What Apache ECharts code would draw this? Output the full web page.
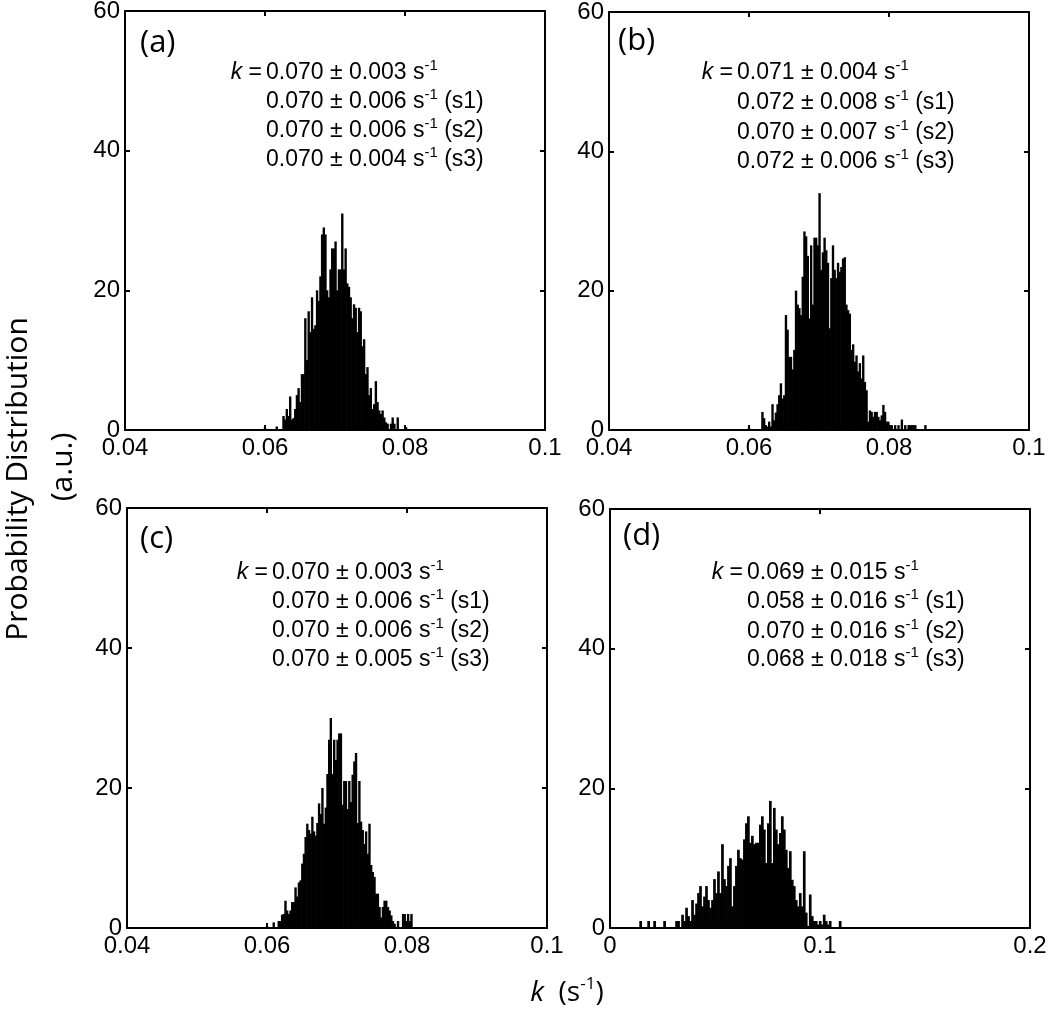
<!DOCTYPE html>
<html>
<head>
<meta charset="utf-8">
<script src="https://cdn.jsdelivr.net/npm/echarts@6/dist/echarts.min.js"></script>
<style>
  html, body { margin: 0; padding: 0; background: #fff; }
  #chart { width: 1050px; height: 1013px; }
</style>
</head>
<body>
<div id="chart"></div>
<script>
// histogram heights (a.u.), one value per bin
const binStartA = 0.0600, binWidthA = 0.00024;
const valuesA = [
  0.4, 0, 0, 0, 0, 0, 0, 0.5, 0, 0,
  0, 2, 1.5, 3, 2, 4.8, 1.5, 1.7, 3, 5,
  6, 4, 8, 8, 16, 10, 17, 14, 19, 14.5,
  15, 20, 18.5, 22, 28, 29, 28, 20, 19, 23,
  26, 26, 27, 20, 23, 23, 31, 23, 26, 21,
  20.5, 19, 16, 18, 17.5, 14, 17.5, 17, 12, 13,
  8, 9, 5, 6, 3, 3.7, 7, 4, 2.8, 2.3,
  2.8, 1.8, 1.1, 0.9, 0, 0.9, 1.8, 0.9, 0, 1.8,
  0, 0, 0, 0, 0.4
];

const binStartB = 0.0600, binWidthB = 0.00024;
const valuesB = [
  0.4, 0, 0, 0, 0, 0, 0, 0, 2.6, 1.7,
  0.7, 0.5, 1.2, 0.5, 3.7, 1.4, 2.5, 3.7, 5, 6.7,
  4.5, 5, 16.5, 14.4, 10.5, 10.5, 8.7, 11.5, 20, 18,
  17.5, 16.5, 22, 28.5, 27.8, 25, 16, 26.5, 18, 27.6,
  27.6, 26.5, 34, 23, 25.5, 27.6, 25.8, 24, 14.6, 21.8,
  26.5, 23, 21.8, 24, 22.7, 23.4, 24.6, 24.8, 18, 17.2,
  16.7, 11.5, 12.3, 9.8, 10.7, 8.4, 9.6, 7.4, 10.7, 6.9,
  5.7, 1.2, 2.8, 2.6, 1.9, 2.6, 2.6, 1.9, 1.4, 2.1,
  3.6, 2.6, 1.2, 1.2, 0.7, 0.7, 0, 0.7, 0, 0.7,
  0, 1.5, 0, 0.7, 0, 0.7, 0.7, 0.7, 0.7, 0.7,
  0, 0, 0, 0, 0, 0.7
];

const binStartC = 0.0600, binWidthC = 0.00024;
const valuesC = [
  0.3, 0, 0, 0, 0.8, 0, 0, 1, 1, 1.9,
  2, 3.9, 2.5, 2, 2.5, 3.7, 3.7, 5.8, 4.5, 6.5,
  6.8, 9.2, 10.6, 13, 14.9, 14, 13.5, 15.9, 13.8, 13.2,
  15, 17.8, 16.3, 20, 14.9, 17.2, 22, 26.9, 30, 22,
  26.9, 24, 26.9, 27.8, 27.8, 17.6, 21, 21, 17, 21,
  18, 21.9, 23.8, 25, 15, 21, 15.2, 14, 12, 13.8,
  10.6, 14.9, 9, 8, 7.3, 4.9, 4.9, 3, 1.5, 3,
  3.9, 3.9, 3, 2.5, 1.8, 1, 0.6, 0, 1, 0,
  0, 2, 2, 1, 2, 1, 2
];

const binStartD = 0.0146, binWidthD = 0.00095;
const valuesD = [
  1, 0, 0, 0, 1, 0, 0, 1, 0, 0,
  0, 0, 1, 0, 0, 0, 0, 0, 1, 1,
  0, 1.9, 1, 2.9, 1.7, 1, 4, 1.9, 3.5, 5,
  6, 3.1, 4.5, 6, 4, 2.9, 4, 7, 5, 8.1,
  5, 12, 7, 6, 8.9, 10, 3.1, 6, 8.9, 11.2,
  10, 9.8, 12.7, 15, 16, 12.2, 13.2, 12, 12.2, 12.2,
  14.8, 16, 14.1, 9.3, 15, 18.2, 9.3, 17.2, 14.1, 12,
  13.6, 16, 14.1, 11.2, 8.6, 11, 6.9, 6, 4, 3.1,
  5, 3.1, 11, 2.2, 0.3, 4.8, 1.7, 1, 1, 0.5,
  1, 0.5, 1.9, 1, 0.5, 1, 0, 0, 0, 0,
  1
];

// tick labels
const xTicksNarrow = [0.04, 0.06, 0.08, 0.1];
const xTicksWide = [0, 0.1, 0.2];
const yTicks = [0, 20, 40, 60];

// fitted rates printed in each panel
const statsA = ['0.070 ± 0.003', '0.070 ± 0.006', '0.070 ± 0.006', '0.070 ± 0.004'];
const statsB = ['0.071 ± 0.004', '0.072 ± 0.008', '0.070 ± 0.007', '0.072 ± 0.006'];
const statsC = ['0.070 ± 0.003', '0.070 ± 0.006', '0.070 ± 0.006', '0.070 ± 0.005'];
const statsD = ['0.069 ± 0.015', '0.058 ± 0.016', '0.070 ± 0.016', '0.068 ± 0.018'];
const statSuffix = ['', ' (s1)', ' (s2)', ' (s3)'];

const panels = [
  { tag: '(a)', grid: { left: 125, top: 11, width: 420, height: 419 },
    start: binStartA, bin: binWidthA, values: valuesA, xTicks: xTicksNarrow, stats: statsA,
    tagAt: [140, 43], numX: 266, lineY: [73, 102, 131, 160] },
  { tag: '(b)', grid: { left: 609, top: 12, width: 420, height: 418 },
    start: binStartB, bin: binWidthB, values: valuesB, xTicks: xTicksNarrow, stats: statsB,
    tagAt: [618, 41], numX: 737, lineY: [73, 103, 133, 162] },
  { tag: '(c)', grid: { left: 127, top: 508, width: 420, height: 420 },
    start: binStartC, bin: binWidthC, values: valuesC, xTicks: xTicksNarrow, stats: statsC,
    tagAt: [140, 539], numX: 272, lineY: [573, 602, 631, 660] },
  { tag: '(d)', grid: { left: 610, top: 509, width: 420, height: 419 },
    start: binStartD, bin: binWidthD, values: valuesD, xTicks: xTicksWide, stats: statsD,
    tagAt: [623, 536], numX: 747, lineY: [573, 602, 632, 660] }
];

const textFont = 'Liberation Sans';
const black = '#000';
const lineStyle = { color: black, width: 2 };

const span = t => t[t.length - 1] - t[0];
const fmt = v => String(+v.toFixed(4));

function makeXAxis(p, i, pos) {
  const t = p.xTicks;
  return {
    type: 'value', gridIndex: i, position: pos,
    min: t[0], max: t[t.length - 1], interval: +(t[1] - t[0]).toFixed(6),
    axisLine: { show: true, onZero: false, lineStyle },
    axisTick: { show: true, inside: true, length: 5, lineStyle },
    splitLine: { show: false },
    axisLabel: { show: pos === 'bottom', color: black, fontFamily: textFont, fontSize: 24,
                 margin: 6, formatter: fmt }
  };
}

function makeYAxis(i, pos) {
  return {
    type: 'value', gridIndex: i, position: pos,
    min: yTicks[0], max: yTicks[yTicks.length - 1], interval: yTicks[1] - yTicks[0],
    axisLine: { show: true, onZero: false, lineStyle },
    axisTick: { show: true, inside: true, length: 5, lineStyle },
    splitLine: { show: false },
    axisLabel: { show: pos === 'left', color: black, fontFamily: textFont, fontSize: 24, margin: 5 }
  };
}

const statRich = {
  n: { fontFamily: textFont, fontSize: 23, lineHeight: 29, fill: black },
  i: { fontFamily: textFont, fontSize: 23, lineHeight: 29, fontStyle: 'italic', fill: black },
  sup: { fontFamily: textFont, fontSize: 15, lineHeight: 15, verticalAlign: 'top', fill: black }
};

const graphics = [];
panels.forEach(p => {
  graphics.push({
    type: 'text', x: p.tagAt[0], y: p.tagAt[1],
    style: { text: p.tag, fontFamily: 'Open Sans', fontSize: 31, fill: black, verticalAlign: 'middle' }
  });
  graphics.push({
    type: 'text', x: p.numX - 4, y: p.lineY[0],
    style: { text: '{i|k}{n| =}', rich: statRich, align: 'right', verticalAlign: 'middle' }
  });
  p.stats.forEach((s, j) => {
    graphics.push({
      type: 'text', x: p.numX, y: p.lineY[j],
      style: {
        text: '{n|' + s + ' s}{sup|-1}' + (statSuffix[j] ? '{n|' + statSuffix[j] + '}' : ''),
        rich: statRich, verticalAlign: 'middle'
      }
    });
  });
});

// shared axis titles
graphics.push({
  type: 'text', x: 18, y: 479, rotation: Math.PI / 2,
  style: { text: 'Probability Distribution', fontFamily: 'Open Sans', fontSize: 30, fill: black,
           align: 'center', verticalAlign: 'middle' }
});
graphics.push({
  type: 'text', x: 63, y: 467, rotation: Math.PI / 2,
  style: { text: '(a.u.)', fontFamily: 'Open Sans', fontSize: 30, fill: black,
           align: 'center', verticalAlign: 'middle' }
});
graphics.push({
  type: 'text', x: 567, y: 993,
  style: {
    text: '{i|k}{n|  (s}{sup|-1}{n|)}',
    align: 'center', verticalAlign: 'middle',
    rich: {
      n: { fontFamily: 'Open Sans', fontSize: 28, lineHeight: 34, fill: black },
      i: { fontFamily: 'Open Sans', fontSize: 28, lineHeight: 34, fontStyle: 'italic', fill: black },
      sup: { fontFamily: 'Open Sans', fontSize: 17, lineHeight: 17, verticalAlign: 'top', fill: black }
    }
  }
});

const option = {
  animation: false,
  backgroundColor: '#fff',
  grid: panels.map(p => Object.assign({ show: false, outerBoundsMode: 'none', containLabel: false }, p.grid)),
  xAxis: panels.flatMap((p, i) => [makeXAxis(p, i, 'bottom'), makeXAxis(p, i, 'top')]),
  yAxis: panels.flatMap((p, i) => [makeYAxis(i, 'left'), makeYAxis(i, 'right')]),
  series: panels.map((p, i) => ({
    type: 'bar',
    xAxisIndex: 2 * i,
    yAxisIndex: 2 * i,
    data: p.values.map((v, j) => [p.start + j * p.bin, v]),
    // one bin wide on screen, a little more so neighbouring bins touch
    barWidth: p.bin / span(p.xTicks) * p.grid.width + 0.7,
    itemStyle: { color: black },
    silent: true
  })),
  graphic: graphics
};

const chart = echarts.init(document.getElementById('chart'));
chart.setOption(option);
</script>
</body>
</html>
